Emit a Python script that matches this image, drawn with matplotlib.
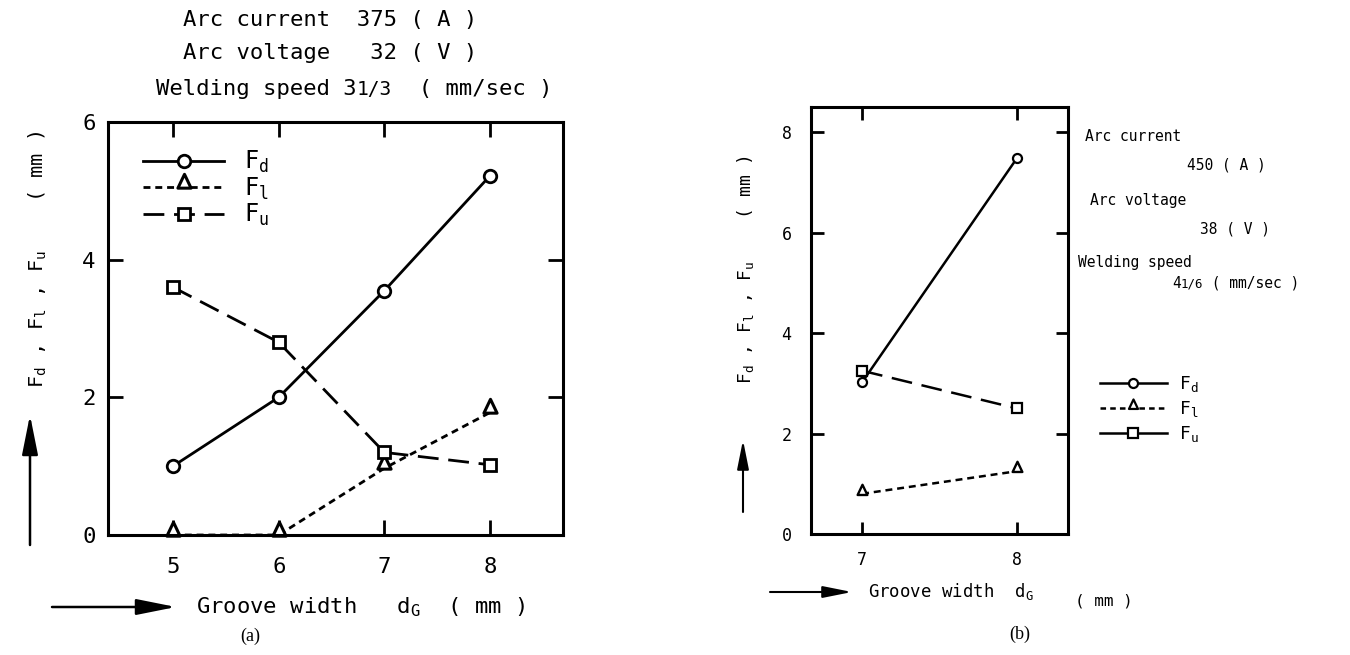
import matplotlib
matplotlib.use("Agg")
import matplotlib.pyplot as plt
from matplotlib.lines import Line2D
from matplotlib.path import Path
from matplotlib.patches import FancyArrowPatch

plt.rcParams["font.family"] = ["DejaVu Sans Mono"]
plt.rcParams["mathtext.default"] = "regular"
plt.rcParams["lines.scale_dashes"] = False

# ---- data -------------------------------------------------------------
groove_a = [5, 6, 7, 8]
fd_a = [1.0, 2.0, 3.55, 5.22]
fl_a = [0.0, 0.0, 0.97, 1.78]
fu_a = [3.6, 2.8, 1.2, 1.02]

groove_b = [7, 8]
fd_b = [3.02, 7.48]
fl_b = [0.8, 1.25]
fu_b = [3.25, 2.5]

series_labels = [r"$F_d$", r"$F_l$", r"$F_u$"]
xticks_a = [5, 6, 7, 8]
yticks_a = [0, 2, 4, 6]
xticks_b = [7, 8]
yticks_b = [0, 2, 4, 6, 8]

ylabel_text = r"$F_d$ , $F_l$ , $F_u$    ( mm )"

W, H = 1350, 655
fig = plt.figure(figsize=(W / 100, H / 100), dpi=100)

# triangle that stands on its data point (base at the point)
tri = Path([(-1.0, -0.1), (1.0, -0.1), (0.0, 2.0), (-1.0, -0.1)],
           [Path.MOVETO, Path.LINETO, Path.LINETO, Path.CLOSEPOLY])


def fx(x):
    return x / W


def fy(y):
    return 1 - y / H


def axes_px(left, top, right, bottom):
    return fig.add_axes([fx(left), fy(bottom), (right - left) / W, (bottom - top) / H])


def style_axes(ax, fs, pad_y, pad_x, tlen):
    for s in ax.spines.values():
        s.set_linewidth(2.2)
    ax.tick_params(direction="in", length=tlen, width=2.0, top=True, right=True,
                   labelsize=fs)
    ax.tick_params(axis="y", pad=pad_y)
    ax.tick_params(axis="x", pad=pad_x)


def arrow(x0, y0, x1, y1, lw=1.8, scale=22):
    fig.add_artist(FancyArrowPatch(
        (fx(x0), fy(y0)), (fx(x1), fy(y1)), transform=fig.transFigure,
        arrowstyle="-|>,head_length=1.1,head_width=0.22", mutation_scale=scale,
        lw=lw, color="black", shrinkA=0, shrinkB=0))


def mono_line(x, y, parts):
    # parts: (text, fontsize); placed one after another on a common baseline
    cx = x
    for s, fs in parts:
        fig.text(fx(cx), fy(y), s, fontsize=fs, ha="left", va="baseline")
        cx += len(s) * 0.602 * fs * 100 / 72


sty_fd = dict(color="black", ls="-", marker="o", mfc="white", mec="black", clip_on=False)
sty_fl = dict(color="black", ls=(0, (5, 3.5)), marker=tri, mfc="white", mec="black", clip_on=False)
sty_fu = dict(color="black", ls=(0, (15, 7)), marker="s", mfc="white", mec="black", clip_on=False)

# ---- panel (a) --------------------------------------------------------
ax_a = axes_px(108, 122, 563, 535)
la, = ax_a.plot(groove_a, fd_a, lw=2.0, ms=9, mew=2.0, **sty_fd)
lb, = ax_a.plot(groove_a, fl_a, lw=2.0, ms=19, mew=2.2, **sty_fl)
lc, = ax_a.plot(groove_a, fu_a, lw=2.0, ms=8, mew=2.0, **sty_fu)
ax_a.set_xlim(4.385, 8.69)
ax_a.set_ylim(0, 6)
ax_a.set_xticks(xticks_a)
ax_a.set_yticks(yticks_a)
style_axes(ax_a, 16, 9, 16, 11)
ax_a.legend([la, lb, lc], series_labels, loc="upper left", frameon=False,
            bbox_to_anchor=(0.078, 0.935), borderaxespad=0, borderpad=0,
            fontsize=17, handlelength=3.4, handletextpad=0.85, labelspacing=0.02)

mono_line(183, 26, [("Arc current  375 ( A )", 16)])
mono_line(183, 59, [("Arc voltage   32 ( V )", 16)])
mono_line(156, 95, [("Welding speed 3", 16), ("1/3", 14), ("  ( mm/sec )", 16)])

fig.text(fx(38), fy(259), ylabel_text, rotation=90, ha="center", va="center",
         fontsize=14.6)
arrow(30, 545, 30, 415)
fig.text(fx(196), fy(607), r"Groove width   $d_G$  ( mm )", ha="left", va="center",
         fontsize=16)
arrow(52, 607, 176, 607)
fig.text(fx(250), fy(636), "(a)", ha="center", va="center", fontsize=13,
         family="Liberation Serif")

# ---- panel (b) --------------------------------------------------------
ax_b = axes_px(811, 107, 1068, 534)
ax_b.plot(groove_b, fd_b, lw=1.8, ms=6.5, mew=1.6, **sty_fd)
ax_b.plot(groove_b, fl_b, lw=1.8, ms=14, mew=1.7, **sty_fl)
ax_b.plot(groove_b, fu_b, lw=1.8, ms=6.5, mew=1.6, **sty_fu)
ax_b.set_xlim(6.67, 8.33)
ax_b.set_ylim(0, 8.5)
ax_b.set_xticks(xticks_b)
ax_b.set_yticks(yticks_b)
style_axes(ax_b, 12, 14, 12, 9)

leg_handles = [
    Line2D([], [], color="black", lw=1.8, ls="-", marker="o", ms=6.5, mew=1.6, mfc="white"),
    Line2D([], [], color="black", lw=1.8, ls=(0, (4, 3)), marker=tri, ms=13, mew=1.6, mfc="white"),
    Line2D([], [], color="black", lw=1.8, ls="-", marker="s", ms=6.5, mew=1.6, mfc="white"),
]
fig.legend(leg_handles, series_labels, loc="upper left",
           bbox_to_anchor=(fx(1100), fy(374)), frameon=False, fontsize=13,
           borderpad=0, borderaxespad=0,
           handlelength=3.7, handletextpad=0.7, labelspacing=0.28)

fs_b = 10.5
mono_line(1085, 141, [("Arc current", fs_b)])
mono_line(1187, 170, [("450 ( A )", fs_b)])
mono_line(1090, 205, [("Arc voltage", fs_b)])
mono_line(1200, 233, [("38 ( V )", fs_b)])
mono_line(1078, 267, [("Welding speed", fs_b)])
mono_line(1172, 288, [("4", fs_b), ("1/6", 9), (" ( mm/sec )", fs_b)])

fig.text(fx(745), fy(270), ylabel_text, rotation=90, ha="center", va="center",
         fontsize=13)
arrow(743, 512, 743, 440, lw=1.5, scale=16)
fig.text(fx(868), fy(592), r"Groove width  $d_G$", ha="left", va="center", fontsize=12.5)
fig.text(fx(1075), fy(601), "( mm )", ha="left", va="center", fontsize=11.5)
arrow(770, 592, 852, 592, lw=1.5, scale=16)
fig.text(fx(1020), fy(634), "(b)", ha="center", va="center", fontsize=13,
         family="Liberation Serif")

fig.savefig("out.png", dpi=100)
